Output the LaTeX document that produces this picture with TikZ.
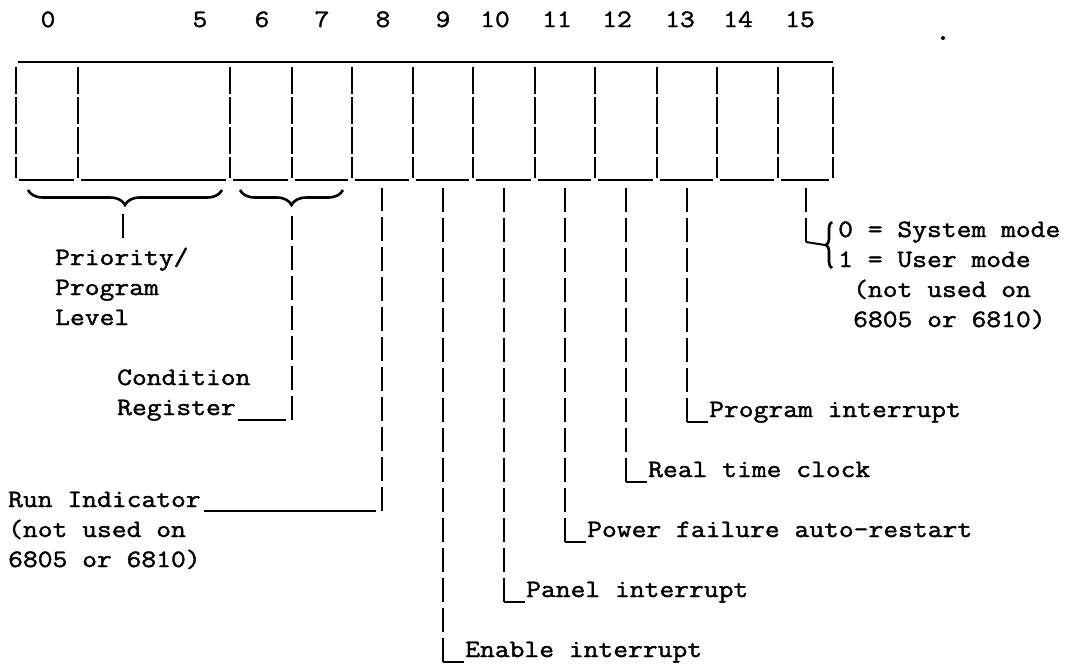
\documentclass[tikz,border=0pt]{standalone}
\usepackage{fontspec}
\newfontfamily\tw{Latin Modern Mono}[FakeStretch=1.15,FakeBold=1.6]
\usetikzlibrary{decorations.pathreplacing,calc}
\begin{document}
\begin{tikzpicture}[x=1pt,y=-1pt,
  txt/.style={font=\tw\fontsize{25}{30}\selectfont, inner sep=0pt, anchor=base west},
  num/.style={font=\tw\fontsize{25}{30}\selectfont, inner sep=0pt, anchor=base},
  wall/.style={line width=2.2pt, dash pattern=on 27pt off 3pt},
  pipe/.style={line width=2.2pt, dash pattern=on 24pt off 6pt},
  rule/.style={line width=2pt},
  br/.style={line width=2.6pt, decorate, decoration={brace, amplitude=#1}}]
\useasboundingbox (0,0) rectangle (1084,664);
% bit numbers
\foreach \t/\x in {0/48,5/200,6/262,7/322,8/383,9/443,10/495,11/557,12/617,13/680,14/738,15/800}
  \node[num] (n\t) at (\x,27) {\t};
% register
\draw[rule] (18,62) -- (833,62);
\foreach \x in {16,78,230,292,352,413,473,535,595,657,717,778,833}
  \draw[wall] (\x,67) -- (\x,178);
\foreach \a/\b in {16/78,78/230,230/292,292/352,352/413,413/473,473/535,535/595,595/657,657/717,717/778,778/833}
  \draw[rule] (\a+3,180) -- (\b-4,180);
% braces
\draw[br=15pt] (222,190) -- (28,190);
\draw[br=15pt] (343,190) -- (240,190);
\coordinate (tip1) at (123,214);
\coordinate (tip2) at (292,214);
% priority
\node[txt] (prio1) at (55,265) {Priority/};
\node[txt] (prio2) at (55,295) {Program};
\node[txt] (prio3) at (55,325) {Level};
\draw[pipe] (tip1) -- (tip1 |- 0,238);
% condition register
\node[txt] (cond) at (117,385) {Condition};
\node[txt] (reg) at (117,415) {Register};
\coordinate (k67) at (292,420);
\draw[pipe] (k67) -- (tip2);
\draw[rule] ($(reg.base east)+(2,5)$) -- ($(k67)+(-6,0)$);
% run indicator
\coordinate (b8) at (382,188);
\node[txt] (run1) at (8,507) {Run Indicator};
\node[txt] (run2) at (8,537) {(not used on};
\node[txt] (run3) at (8,567) {6805 or 6810)};
\coordinate (k8) at (382,511);
\draw[pipe] (k8) -- (b8);
\draw[rule] ($(run1.base east)+(3,4)$) -- ($(k8)+(-6,0)$);
% bits 9-13
\foreach \b/\x/\y/\t in {9/443/657/Enable interrupt,10/504/597/Panel interrupt,11/565/537/Power failure auto-restart,12/626/477/Real time clock,13/687/417/Program interrupt}{
  \coordinate (b\b) at (\x,188);
  \node[txt] (l\b) at (\x+22,\y) {\t};
  \coordinate (k\b) at (\x,\y+5);
  \draw[pipe] (k\b) -- (b\b);
  \draw[rule] (k\b) -- ($(l\b.base west |- k\b)+(-1,0)$);
}
% bit 15
\coordinate (b15) at (806,188);
\coordinate (k15) at (806,242);
\draw[pipe] (k15) -- (b15);
\draw[br=6pt] (832,268) -- (832,222) coordinate[midway] (m15);
\draw[rule] (k15) -- ($(m15)+(-7,0)$);
\node[txt] (s1) at (838,237) {0 = System mode};
\node[txt] (s2) at (838,267) {1 = User mode};
\node[txt] (s3) at (853,297) {(not used on};
\node[txt] (s4) at (853,327) {6805 or 6810)};
% speck
\fill (943,38) circle (2pt);
\end{tikzpicture}
\end{document}
